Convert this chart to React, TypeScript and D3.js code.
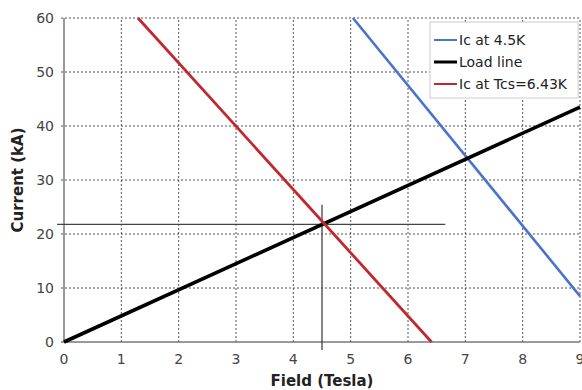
//@ts-nocheck
import React, { useRef, useEffect } from "react";
import * as d3 from "d3";

const xTicks = [0, 1, 2, 3, 4, 5, 6, 7, 8, 9];
const yTicks = [0, 10, 20, 30, 40, 50, 60];

const icHigh = [
  { x: 5.04, y: 60 },
  { x: 9, y: 8.5 },
];
const loadLine = [
  { x: 0, y: 0 },
  { x: 9, y: 43.5 },
];
const icTcs = [
  { x: 1.29, y: 60 },
  { x: 6.41, y: 0 },
];
const hCross = [
  { x: -0.12, y: 21.8 },
  { x: 6.65, y: 21.8 },
];
const vCross = [
  { x: 4.5, y: 25.4 },
  { x: 4.5, y: -1.5 },
];

const series = [
  { label: "Ic at 4.5K", data: icHigh, color: "#4a74c9", width: 2.6 },
  { label: "Load line", data: loadLine, color: "#000000", width: 3.6 },
  { label: "Ic at Tcs=6.43K", data: icTcs, color: "#c0282e", width: 2.8 },
];

const W = 582;
const H = 390;
const margin = { top: 18, right: 2, bottom: 48, left: 64 };
const font = "Verdana, 'DejaVu Sans', sans-serif";

export default function App() {
  const svgRef = useRef(null);

  useEffect(() => {
    const svg = d3.select(svgRef.current);
    svg.selectAll("*").remove();

    const x = d3.scaleLinear().domain([0, 9]).range([margin.left, W - margin.right]);
    const y = d3.scaleLinear().domain([0, 60]).range([H - margin.bottom, margin.top]);

    svg.append("rect").attr("width", W).attr("height", H).attr("fill", "#fff");

    // grid
    const grid = svg.append("g").attr("stroke", "#555").attr("stroke-width", 1).attr("stroke-dasharray", "2,2");
    xTicks.filter((t) => t > 0).forEach((t) => {
      grid.append("line").attr("x1", x(t)).attr("x2", x(t)).attr("y1", y(0)).attr("y2", y(60));
    });
    yTicks.filter((t) => t > 0).forEach((t) => {
      grid.append("line").attr("x1", x(0) - 3).attr("x2", x(9)).attr("y1", y(t)).attr("y2", y(t));
    });

    // axes
    svg.append("line").attr("x1", x(0)).attr("x2", x(0)).attr("y1", y(0)).attr("y2", y(60))
      .attr("stroke", "#777").attr("stroke-width", 1.5);
    svg.append("line").attr("x1", x(0) - 3).attr("x2", x(9)).attr("y1", y(0)).attr("y2", y(0))
      .attr("stroke", "#777").attr("stroke-width", 1.5);

    svg.append("g").selectAll("text").data(xTicks).join("text")
      .attr("x", (d) => x(d)).attr("y", y(0) + 22)
      .attr("text-anchor", "middle").attr("font-family", font).attr("font-size", 14).attr("fill", "#444")
      .text((d) => d);
    svg.append("g").selectAll("text").data(yTicks).join("text")
      .attr("x", x(0) - 10).attr("y", (d) => y(d) + 5)
      .attr("text-anchor", "end").attr("font-family", font).attr("font-size", 14).attr("fill", "#444")
      .text((d) => d);

    svg.append("text").attr("x", (x(0) + x(9)) / 2).attr("y", H - 4)
      .attr("text-anchor", "middle").attr("font-family", font).attr("font-size", 15).attr("font-weight", "bold")
      .attr("fill", "#222").text("Field (Tesla)");
    svg.append("text").attr("transform", `translate(23,${(y(0) + y(60)) / 2}) rotate(-90)`)
      .attr("text-anchor", "middle").attr("font-family", font).attr("font-size", 15).attr("font-weight", "bold")
      .attr("fill", "#222").text("Current (kA)");

    const line = d3.line().x((d) => x(d.x)).y((d) => y(d.y));

    // crosshair
    [hCross, vCross].forEach((c) => {
      svg.append("path").attr("d", line(c)).attr("stroke", "#444").attr("stroke-width", 1.3).attr("fill", "none");
    });

    series.forEach((s) => {
      svg.append("path").attr("d", line(s.data)).attr("stroke", s.color)
        .attr("stroke-width", s.width).attr("fill", "none");
    });

    // legend
    const lg = svg.append("g").attr("transform", "translate(430,22)");
    lg.append("rect").attr("width", 148).attr("height", 76).attr("fill", "#fff")
      .attr("stroke", "#ccc").attr("stroke-width", 1);
    series.forEach((s, i) => {
      const yy = 18 + i * 22;
      lg.append("line").attr("x1", 4).attr("x2", 27).attr("y1", yy).attr("y2", yy)
        .attr("stroke", s.color).attr("stroke-width", s.label === "Load line" ? 3 : 2);
      lg.append("text").attr("x", 29).attr("y", yy + 5).attr("font-family", font).attr("font-size", 14)
        .attr("fill", "#222").text(s.label);
    });
  }, []);

  return (
    <svg ref={svgRef} width={W} height={H} style={{ position: "fixed", left: 0, top: 0 }} />
  );
}
